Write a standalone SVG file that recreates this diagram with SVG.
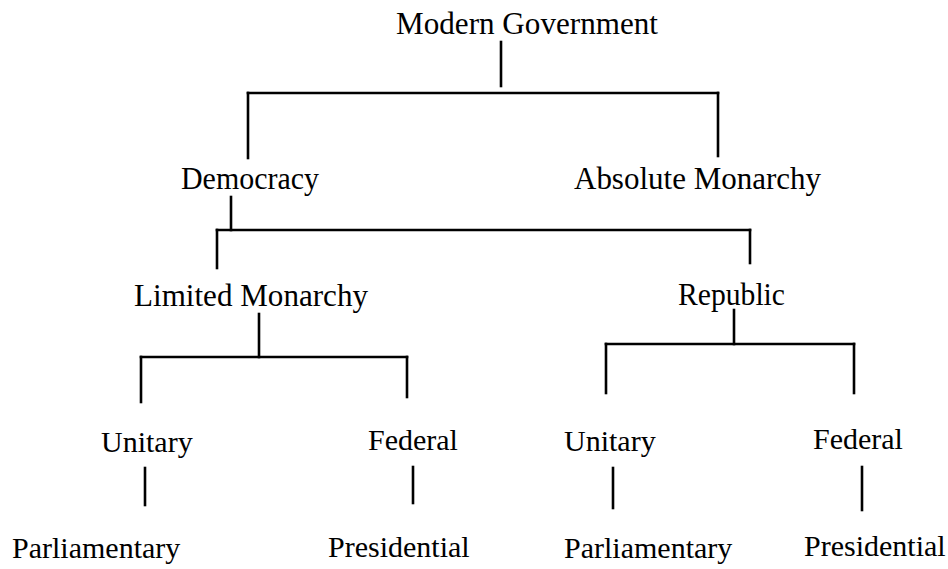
<svg xmlns="http://www.w3.org/2000/svg" width="948" height="569" viewBox="0 0 948 569">
<style>
text{font-family:"Liberation Serif","Times New Roman",serif;font-size:30px;fill:#000}
.big{font-size:31px}
.c line{stroke:#000;stroke-width:2.6;stroke-linecap:square}
</style>
<rect width="948" height="569" fill="#fff"/>
<g class="c" id="connectors">
<line x1="501" y1="42" x2="501" y2="86"/>
<line x1="248" y1="93" x2="718" y2="93"/>
<line x1="248" y1="93" x2="248" y2="158"/>
<line x1="718" y1="93" x2="718" y2="156"/>
<line x1="231" y1="197" x2="231" y2="230"/>
<line x1="217" y1="230" x2="750" y2="230"/>
<line x1="217" y1="230" x2="217" y2="268"/>
<line x1="750" y1="230" x2="750" y2="263"/>
<line x1="259" y1="314" x2="259" y2="357"/>
<line x1="141" y1="357" x2="407" y2="357"/>
<line x1="141" y1="357" x2="141" y2="402"/>
<line x1="407" y1="357" x2="407" y2="397"/>
<line x1="734" y1="310" x2="734" y2="344"/>
<line x1="606" y1="344" x2="854" y2="344"/>
<line x1="606" y1="344" x2="606" y2="393"/>
<line x1="854" y1="344" x2="854" y2="393"/>
<line x1="145" y1="468" x2="145" y2="505"/>
<line x1="413" y1="467" x2="413" y2="503"/>
<line x1="613" y1="468" x2="613" y2="508"/>
<line x1="862" y1="467" x2="862" y2="510"/>
</g>
<g id="n-modern"><text class="big" x="396" y="34" textLength="262" lengthAdjust="spacingAndGlyphs">Modern Government</text></g>
<g id="n-democracy"><text class="big" x="181" y="189" textLength="138" lengthAdjust="spacingAndGlyphs">Democracy</text></g>
<g id="n-absolute"><text class="big" x="574" y="189" textLength="247" lengthAdjust="spacingAndGlyphs">Absolute Monarchy</text></g>
<g id="n-limited"><text class="big" x="134" y="306" textLength="234" lengthAdjust="spacingAndGlyphs">Limited Monarchy</text></g>
<g id="n-republic"><text class="big" x="678" y="305" textLength="107" lengthAdjust="spacingAndGlyphs">Republic</text></g>
<g id="n-unitary1"><text x="101" y="452">Unitary</text></g>
<g id="n-federal1"><text x="368" y="450">Federal</text></g>
<g id="n-unitary2"><text x="564" y="451">Unitary</text></g>
<g id="n-federal2"><text x="813" y="449">Federal</text></g>
<g id="n-parl1"><text x="12" y="558">Parliamentary</text></g>
<g id="n-pres1"><text x="328" y="557">Presidential</text></g>
<g id="n-parl2"><text x="564" y="558">Parliamentary</text></g>
<g id="n-pres2"><text x="804" y="556">Presidential</text></g>
</svg>
